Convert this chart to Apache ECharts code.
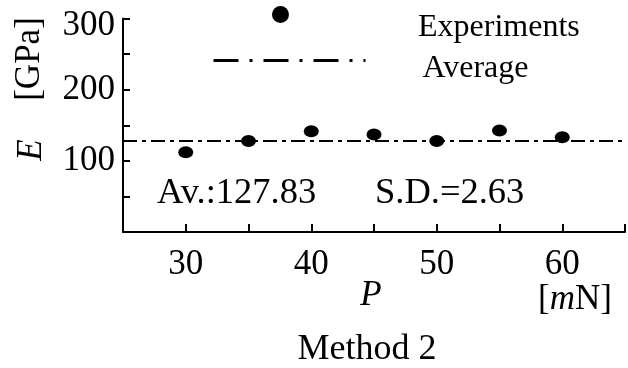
<!DOCTYPE html>
<html>
<head>
<meta charset="utf-8">
<script src="https://cdn.jsdelivr.net/npm/echarts@6/dist/echarts.min.js"></script>
<style>
html, body { margin: 0; padding: 0; background: #fff; }
#main { width: 628px; height: 368px; }
</style>
</head>
<body>
<div id="main"></div>
<script>
// loads P [mN] and measured modulus E [GPa]
var loads = [30, 35, 40, 45, 50, 55, 60];
var moduli = [112, 128, 141.5, 137, 128, 142.5, 133];
var average = 127.83;
var stdDev = 2.63;
var xRange = [25, 65];
var xTickLabels = [30, 40, 50, 60];
var yTickLabels = [100, 200, 300];

var serif = 'Liberation Serif';
var dot = 'path://M0,50A50,50,0,1,1,100,50A50,50,0,1,1,0,50Z';

function label(text, x, y, size, extra) {
    var el = {
        type: 'text', x: x, y: y,
        style: {
            text: text, fill: '#000', fontFamily: serif, fontSize: size,
            align: 'center', verticalAlign: 'middle'
        }
    };
    if (extra) {
        for (var k in extra.style || {}) el.style[k] = extra.style[k];
        if (extra.rotation) el.rotation = extra.rotation;
    }
    return el;
}

// legend text pushed below the icon centre by an empty first line
function legendText(gap) {
    return {
        fontSize: 32, fontFamily: serif, color: '#000', padding: [0, 0, 0, 0],
        rich: {
            s: { fontSize: 1, lineHeight: gap },
            a: { fontSize: 32, fontFamily: serif, color: '#000', lineHeight: 36 }
        }
    };
}

var option = {
    animation: false,
    textStyle: { fontFamily: serif, color: '#000' },
    grid: { left: 123, top: 16, right: 1, bottom: 136 },
    xAxis: {
        type: 'value', min: xRange[0], max: xRange[1], interval: 5,
        axisLine: { lineStyle: { color: '#000', width: 2 } },
        axisTick: { inside: true, length: 8, lineStyle: { color: '#000', width: 2 } },
        axisLabel: {
            fontSize: 35, color: '#000', margin: 15, fontFamily: serif,
            formatter: function (v) { return xTickLabels.indexOf(v) >= 0 ? String(v) : ''; }
        },
        splitLine: { show: false }
    },
    yAxis: {
        type: 'value', min: 0, max: 300, interval: 50,
        axisLine: { lineStyle: { color: '#000', width: 2 } },
        axisTick: { inside: true, length: 7, lineStyle: { color: '#000', width: 2 } },
        axisLabel: {
            fontSize: 35, color: '#000', margin: 8, fontFamily: serif,
            formatter: function (v) {
                if (yTickLabels.indexOf(v) < 0) return '';
                return v === 300 ? '{s| }\n{n|' + v + '}' : String(v);
            },
            rich: {
                s: { fontSize: 1, lineHeight: 14 },
                n: { fontSize: 35, fontFamily: serif, color: '#000', lineHeight: 36 }
            }
        },
        splitLine: { show: false }
    },
    legend: [{
        data: [{ name: 'Experiments', icon: dot }],
        left: 272, top: -4, padding: 0, selectedMode: false,
        itemWidth: 21, itemHeight: 17,
        itemStyle: { color: '#000', opacity: 1 },
        formatter: function (name) { return '{s| }\n{a|' + name + '}'; },
        textStyle: Object.assign(legendText(26), { padding: [0, 0, 0, 122] })
    }, {
        data: ['Average'],
        left: 212, top: 42, padding: 0, selectedMode: false,
        itemWidth: 152, itemHeight: 18,
        itemStyle: { color: 'rgba(0,0,0,0)', borderWidth: 0 },
        lineStyle: { color: '#000', width: 3, type: [25, 11, 3, 11] },
        formatter: function (name) { return '{s| }\n{a|' + name + '}'; },
        textStyle: Object.assign(legendText(16), { padding: [0, 0, 0, 52] })
    }],
    series: [{
        name: 'Experiments', type: 'scatter',
        data: loads.map(function (x, i) { return [x, moduli[i]]; }),
        symbol: dot, symbolSize: [15, 12],
        itemStyle: { color: '#000', opacity: 1 }
    }, {
        name: 'Average', type: 'line',
        data: xRange.map(function (x) { return [x, average]; }),
        symbol: 'none',
        itemStyle: { color: '#000' },
        lineStyle: { color: '#000', width: 2, type: [14, 5, 4, 5] }
    }],
    graphic: [
        label('E', 32, 150, 35, { style: { fontStyle: 'italic' }, rotation: Math.PI / 2 }),
        label('[GPa]', 30, 59, 35, { rotation: Math.PI / 2 }),
        label('P', 371, 296, 35, { style: { fontStyle: 'italic' } }),
        label('[{i|m}N]', 575, 300, 35, { style: { rich: { i: { fontStyle: 'italic', fontSize: 35, fontFamily: serif } } } }),
        label('Av.:' + average.toFixed(2), 157, 193, 36.5, { style: { align: 'left' } }),
        label('S.D.=' + stdDev.toFixed(2), 375, 193, 36.5, { style: { align: 'left' } }),
        label('Method 2', 367, 350, 36)
    ]
};

var myChart = echarts.init(document.getElementById('main'));
myChart.setOption(option);
</script>
</body>
</html>
